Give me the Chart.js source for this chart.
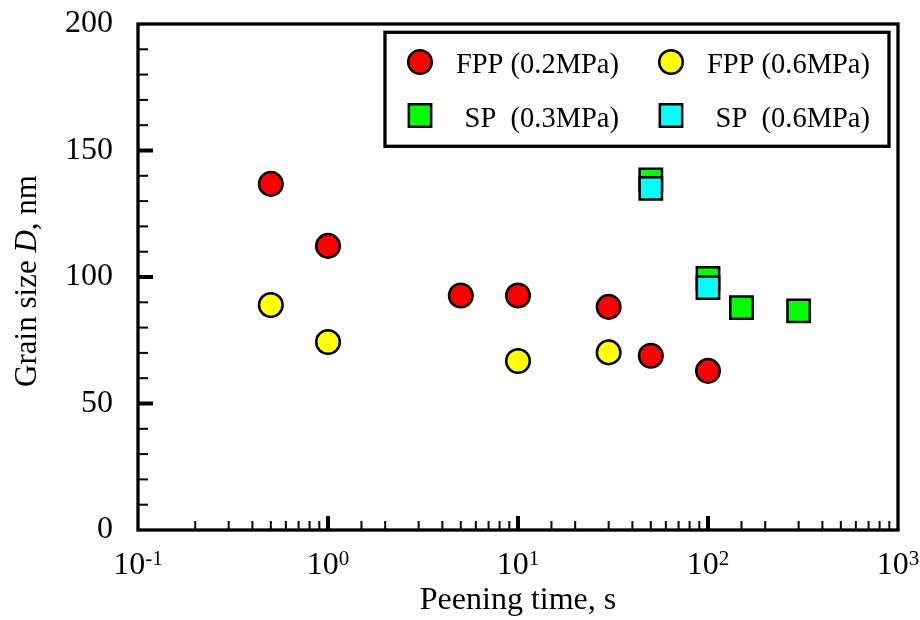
<!DOCTYPE html>
<html>
<head>
<meta charset="utf-8">
<script src="https://cdn.jsdelivr.net/npm/chart.js@4/dist/chart.umd.min.js"></script>
<style>
  html, body { margin: 0; padding: 0; background: #fff; }
  #grainChart { display: block; }
</style>
</head>
<body>
<canvas id="grainChart" width="920" height="620"></canvas>
<script>
// peening time (s) and grain size (nm)
const fpp02Time = [0.5, 1, 5, 10, 30, 50, 100];
const fpp02Size = [136.8, 112.3, 92.7, 92.7, 88.2, 68.9, 62.9];

const fpp06Time = [0.5, 1, 10, 30];
const fpp06Size = [88.9, 74.3, 66.8, 70.2];

const sp03Time = [50, 100, 150, 300];
const sp03Size = [138.4, 99.4, 87.9, 86.6];

const sp06Time = [50, 100];
const sp06Size = [135.0, 95.8];

const seriesLabels = ["FPP (0.2MPa)", "FPP (0.6MPa)", "SP  (0.3MPa)", "SP  (0.6MPa)"];
const yMajorTicks = [0, 50, 100, 150, 200];
const xTickExponents = [-1, 0, 1, 2, 3];

const SERIF = "'Liberation Serif', 'Times New Roman', serif";

function toPoints(xs, ys) {
    return xs.map((x, i) => ({ x: x, y: ys[i] }));
}

// frame, inward ticks, power-of-ten labels, y title and boxed legend
const paperAxes = {
    id: "paperAxes",
    afterDraw(chart) {
        const ctx = chart.ctx;
        const area = chart.chartArea;
        const xs = chart.scales.x;
        const ys = chart.scales.y;
        ctx.save();
        ctx.strokeStyle = "#000";
        ctx.lineCap = "butt";

        // x ticks
        xs.ticks.forEach(t => {
            const e = Math.log10(t.value);
            const major = Math.abs(e - Math.round(e)) < 1e-6;
            const px = xs.getPixelForValue(t.value);
            if (px <= area.left + 1 || px >= area.right - 1) return;
            ctx.lineWidth = major ? 4 : 2;
            ctx.beginPath();
            ctx.moveTo(px, area.bottom);
            ctx.lineTo(px, area.bottom - (major ? 14 : 9));
            ctx.stroke();
        });

        // y ticks
        ys.ticks.forEach(t => {
            const major = yMajorTicks.includes(t.value);
            const py = ys.getPixelForValue(t.value);
            if (py <= area.top + 1 || py >= area.bottom - 1) return;
            ctx.lineWidth = major ? 4 : 2;
            ctx.beginPath();
            ctx.moveTo(area.left, py);
            ctx.lineTo(area.left + (major ? 15 : 10), py);
            ctx.stroke();
        });

        // frame
        ctx.lineWidth = 3.3;
        ctx.strokeRect(area.left, area.top, area.right - area.left, area.bottom - area.top);

        // x tick labels 10^n
        ctx.fillStyle = "#000";
        ctx.textBaseline = "alphabetic";
        ctx.textAlign = "left";
        xTickExponents.forEach(n => {
            const px = xs.getPixelForValue(Math.pow(10, n));
            ctx.font = "32px " + SERIF;
            const base = "10";
            const wb = ctx.measureText(base).width;
            ctx.font = "21px " + SERIF;
            const sup = n < 0 ? "-" + Math.abs(n) : String(n);
            const ws = ctx.measureText(sup).width;
            const x0 = px - (wb + ws) / 2;
            ctx.font = "32px " + SERIF;
            ctx.fillText(base, x0, 574);
            ctx.font = "21px " + SERIF;
            ctx.fillText(sup, x0 + wb, 565);
        });

        // y title with italic D
        const parts = [
            { t: "Grain size ", f: "31px " + SERIF },
            { t: "D", f: "italic 31px " + SERIF },
            { t: ", nm", f: "31px " + SERIF }
        ];
        let total = 0;
        parts.forEach(p => { ctx.font = p.f; p.w = ctx.measureText(p.t).width; total += p.w; });
        ctx.translate(28, 281);
        ctx.rotate(-Math.PI / 2);
        ctx.textBaseline = "middle";
        let cx = -total / 2;
        parts.forEach(p => { ctx.font = p.f; ctx.fillText(p.t, cx, 0); cx += p.w; });
        ctx.setTransform(1, 0, 0, 1, 0, 0);

        // legend
        ctx.lineWidth = 3.3;
        ctx.fillStyle = "#fff";
        ctx.fillRect(385, 32.3, 504, 114);
        ctx.strokeRect(385, 32.3, 504, 114);
        const cells = [
            { ds: 0, mx: 420, my: 62, tx: 619, ty: 73 },
            { ds: 1, mx: 671, my: 62, tx: 870, ty: 73 },
            { ds: 2, mx: 420, my: 115.5, tx: 619, ty: 127 },
            { ds: 3, mx: 671, my: 115.5, tx: 870, ty: 127 }
        ];
        cells.forEach(c => {
            const ds = chart.data.datasets[c.ds];
            ctx.fillStyle = ds.backgroundColor;
            ctx.strokeStyle = ds.borderColor;
            ctx.lineWidth = ds.borderWidth;
            ctx.beginPath();
            if (ds.pointStyle === "circle") {
                ctx.arc(c.mx, c.my, ds.pointRadius, 0, Math.PI * 2);
            } else {
                const h = ds.pointRadius * Math.SQRT1_2;
                ctx.rect(c.mx - h, c.my - h, 2 * h, 2 * h);
            }
            ctx.fill();
            ctx.stroke();
            ctx.fillStyle = "#000";
            ctx.font = "28.5px " + SERIF;
            ctx.textAlign = "right";
            ctx.textBaseline = "alphabetic";
            ctx.fillText(ds.label, c.tx, c.ty);
        });
        ctx.restore();
    }
};

function series(label, xs, ys, fill, style, radius, order) {
    return {
        label: label,
        data: toPoints(xs, ys),
        backgroundColor: fill,
        borderColor: "#000",
        borderWidth: 2.5,
        pointStyle: style,
        pointRadius: radius,
        pointHoverRadius: radius,
        showLine: false,
        order: order
    };
}

const ctx = document.getElementById("grainChart").getContext("2d");
const chart = new Chart(ctx, {
    type: "scatter",
    data: {
        datasets: [
            series(seriesLabels[0], fpp02Time, fpp02Size, "#ff0000", "circle", 11.8, 1),
            series(seriesLabels[1], fpp06Time, fpp06Size, "#ffff00", "circle", 11.8, 1),
            series(seriesLabels[2], sp03Time, sp03Size, "#00ff00", "rect", 15.8, 2),
            series(seriesLabels[3], sp06Time, sp06Size, "#00ffff", "rect", 15.8, 1)
        ]
    },
    options: {
        responsive: false,
        animation: false,
        events: [],
        layout: { padding: { top: 24, right: 22, left: 0, bottom: 0 } },
        plugins: {
            legend: { display: false },
            tooltip: { enabled: false }
        },
        scales: {
            x: {
                type: "logarithmic",
                min: 0.1,
                max: 1000,
                grid: { display: false, drawTicks: false },
                border: { display: false },
                ticks: { display: false },
                title: {
                    display: true,
                    text: "Peening time, s",
                    color: "#000",
                    font: { family: SERIF, size: 32 },
                    padding: { top: 0, bottom: 0 }
                },
                afterFit: s => { s.height = 90; }
            },
            y: {
                min: 0,
                max: 200,
                // tick marks are drawn inward by the plugin; tickLength only spaces the labels
                grid: { display: false, drawTicks: true, tickLength: 25 },
                border: { display: false },
                ticks: {
                    stepSize: 10,
                    autoSkip: false,
                    padding: 0,
                    color: "#000",
                    font: { family: SERIF, size: 32 },
                    callback: v => (yMajorTicks.includes(v) ? String(v) : "")
                },
                afterFit: s => { s.width = 138; }
            }
        }
    },
    plugins: [paperAxes]
});
</script>
</body>
</html>
